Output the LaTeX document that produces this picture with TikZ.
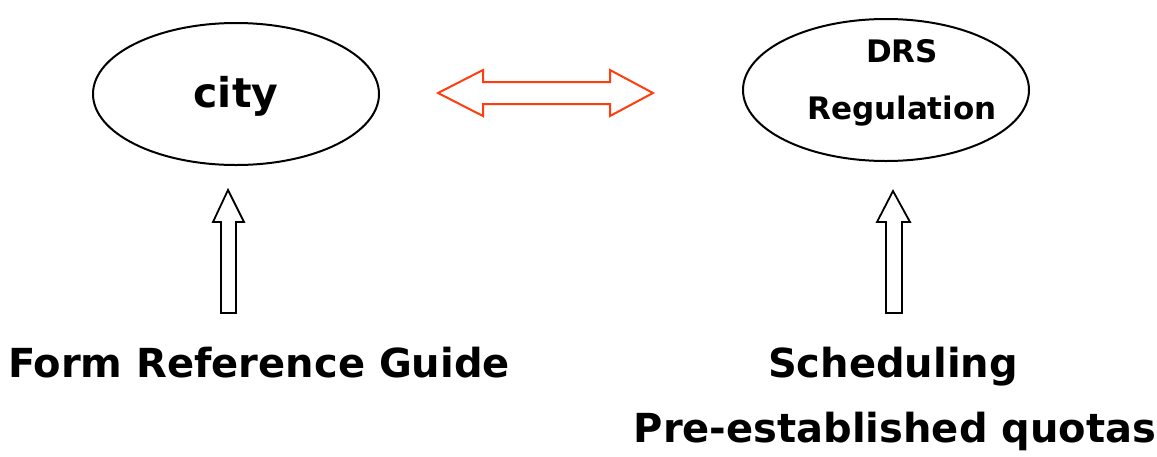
\documentclass[tikz,border=0pt]{standalone}
\usepackage{fontspec}
\setmainfont{DejaVu Sans}
\definecolor{arrowred}{HTML}{FF3D0D}
\tikzset{
  oval/.style={draw=black, line width=2pt},
  blockarrow/.style={draw=black, line width=1.8pt, line join=miter, fill=white},
  redarrow/.style={draw=arrowred, line width=2pt, line join=miter, fill=white},
  lbl/.style={font=\bfseries\fontsize{40}{44}\selectfont, inner sep=0pt, anchor=base},
  olbl/.style={font=\bfseries\fontsize{31}{35}\selectfont, inner sep=0pt, anchor=base},
}
\begin{document}
\begin{tikzpicture}[x=1pt,y=-1pt]
\useasboundingbox (0,0) rectangle (1157,456);
% ellipses
\draw[oval] (236,94) ellipse [x radius=143, y radius=71];
\draw[oval] (886,90) ellipse [x radius=143, y radius=71];
\node[lbl, font=\bfseries\fontsize{41}{45}\selectfont] (city) at (236,107) {city};
\node[olbl] (drs) at (902,62) {DRS};
\node[olbl] (reg) at (902,119) {Regulation};
% red double arrow
\draw[redarrow] (438,93) -- (483,70) -- (483,82) -- (610,82) -- (610,70) -- (653,93)
  -- (610,116) -- (610,104) -- (483,104) -- (483,116) -- cycle;
% up arrows
\draw[blockarrow] (228,190) -- (244,222) -- (236,222) -- (236,313) -- (221,313) -- (221,222) -- (213,222) -- cycle;
\draw[blockarrow] (893,191) -- (910,222) -- (902,222) -- (902,313) -- (886,313) -- (886,222) -- (877,222) -- cycle;
% labels
\node[lbl] (frg) at (259,377) {Form Reference Guide};
\node[lbl] (sch) at (893,377) {Scheduling};
\node[lbl] (peq) at (895,442) {Pre-established quotas};
\end{tikzpicture}
\end{document}
